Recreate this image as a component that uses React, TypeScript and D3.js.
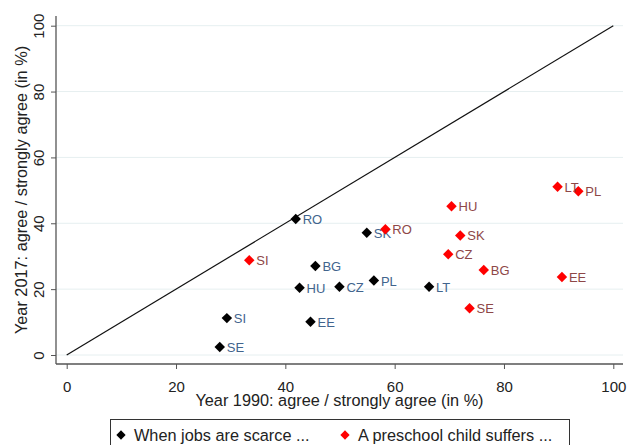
import React, { useEffect, useRef } from 'react';
import * as d3 from 'd3';

const countries1 = ["RO", "SK", "BG", "HU", "CZ", "PL", "LT", "EE", "SI", "SE"];
const jobs1990 = [41.9, 54.9, 45.5, 42.6, 49.9, 56.2, 66.3, 44.6, 29.3, 28.0];
const jobs2017 = [41.3, 37.1, 27.0, 20.4, 20.7, 22.6, 20.7, 10.1, 11.2, 2.4];

const countries2 = ["SI", "RO", "HU", "SK", "CZ", "BG", "SE", "LT", "PL", "EE"];
const child1990 = [33.4, 58.3, 70.4, 72.0, 69.8, 76.3, 73.7, 89.8, 93.6, 90.6];
const child2017 = [28.8, 38.2, 45.2, 36.3, 30.6, 25.8, 14.2, 51.1, 49.7, 23.7];

const ticks = [0, 20, 40, 60, 80, 100];
const legendLabels = ["When jobs are scarce ...", "A preschool child suffers ..."];

const FONT = "'Liberation Sans', Arial, sans-serif";

const App: React.FC = () => {
    const svgRef = useRef<SVGSVGElement>(null);

    useEffect(() => {
        if (!svgRef.current) return;
        const svg = d3.select(svgRef.current);
        svg.selectAll("*").remove();

        const left = 56, right = 623, top = 16, bottom = 364;

        const x = d3.scaleLinear().domain([0, 100]).range([66.7, 613.3]);
        const y = d3.scaleLinear().domain([0, 100]).range([355, 25.7]);

        // gridlines
        svg.append("g")
            .selectAll("line")
            .data(ticks)
            .join("line")
            .attr("x1", left)
            .attr("x2", right)
            .attr("y1", d => y(d))
            .attr("y2", d => y(d))
            .attr("stroke", "#e6eff0")
            .attr("stroke-width", 1);

        // y axis
        const yAxis = svg.append("g")
            .attr("transform", `translate(${left},0)`)
            .call(d3.axisLeft(y).tickValues(ticks).tickSize(5).tickSizeOuter(0));
        yAxis.select(".domain").remove();
        yAxis.append("line")
            .attr("x1", 0).attr("x2", 0)
            .attr("y1", top).attr("y2", bottom)
            .attr("stroke", "#555").attr("stroke-width", 1.3);
        yAxis.selectAll(".tick line").attr("stroke", "#555");
        yAxis.selectAll(".tick text")
            .attr("font-family", FONT)
            .attr("font-size", 15)
            .attr("fill", "#222")
            .attr("x", 0)
            .attr("dy", 0)
            .attr("text-anchor", "middle")
            .attr("transform", "translate(-12,0) rotate(-90)");

        // x axis
        const xAxis = svg.append("g")
            .attr("transform", `translate(0,${bottom})`)
            .call(d3.axisBottom(x).tickValues(ticks).tickSize(5).tickSizeOuter(0));
        xAxis.select(".domain").remove();
        xAxis.append("line")
            .attr("x1", left).attr("x2", right)
            .attr("y1", 0).attr("y2", 0)
            .attr("stroke", "#555").attr("stroke-width", 1.3);
        xAxis.selectAll(".tick line").attr("stroke", "#555");
        xAxis.selectAll(".tick text")
            .attr("font-family", FONT)
            .attr("font-size", 15)
            .attr("fill", "#222")
            .attr("y", 27.5)
            .attr("dy", 0);

        // axis titles
        svg.append("text")
            .attr("x", (left + right) / 2)
            .attr("y", 406)
            .attr("text-anchor", "middle")
            .attr("font-family", FONT)
            .attr("font-size", 16.3)
            .attr("fill", "#222")
            .text("Year 1990: agree / strongly agree (in %)");

        svg.append("text")
            .attr("transform", `translate(27,${(top + bottom) / 2}) rotate(-90)`)
            .attr("text-anchor", "middle")
            .attr("font-family", FONT)
            .attr("font-size", 16.3)
            .attr("fill", "#222")
            .text("Year 2017: agree / strongly agree (in %)");

        // 45 degree line
        svg.append("line")
            .attr("x1", x(0)).attr("y1", y(0))
            .attr("x2", x(100)).attr("y2", y(100))
            .attr("stroke", "#111")
            .attr("stroke-width", 1.2);

        const diamond = d3.symbol().type(d3.symbolDiamond2).size(70);

        const drawSeries = (names: string[], xs: number[], ys: number[], fill: string, labelColor: string) => {
            const g = svg.append("g");
            const pts = names.map((n, i) => ({ n, x: xs[i], y: ys[i] }));
            g.selectAll("path")
                .data(pts)
                .join("path")
                .attr("d", diamond)
                .attr("transform", d => `translate(${x(d.x)},${y(d.y)})`)
                .attr("fill", fill);
            g.selectAll("text")
                .data(pts)
                .join("text")
                .attr("x", d => x(d.x) + 7)
                .attr("y", d => y(d.y) + 5)
                .attr("font-family", FONT)
                .attr("font-size", 13)
                .attr("fill", labelColor)
                .text(d => d.n);
        };

        drawSeries(countries1, jobs1990, jobs2017, "#000", "#41648d");
        drawSeries(countries2, child1990, child2017, "#f00", "#8e4747");

        // legend
        const legend = svg.append("g");
        legend.append("rect")
            .attr("x", 110.5).attr("y", 419.5)
            .attr("width", 459).attr("height", 30)
            .attr("fill", "white")
            .attr("stroke", "#333")
            .attr("stroke-width", 1);
        const legendX = [121, 345];
        const legendColors = ["#000", "#f00"];
        legendLabels.forEach((lab, i) => {
            legend.append("path")
                .attr("d", d3.symbol().type(d3.symbolDiamond2).size(55)())
                .attr("transform", `translate(${legendX[i]},435)`)
                .attr("fill", legendColors[i]);
            legend.append("text")
                .attr("x", legendX[i] + 13)
                .attr("y", 441)
                .attr("font-family", FONT)
                .attr("font-size", 16.3)
                .attr("fill", "#222")
                .text(lab);
        });
    }, []);

    return (
        <svg ref={svgRef} width={629} height={445}
            style={{ position: "absolute", left: 0, top: 0, background: "white" }} />
    );
};

export default App;
